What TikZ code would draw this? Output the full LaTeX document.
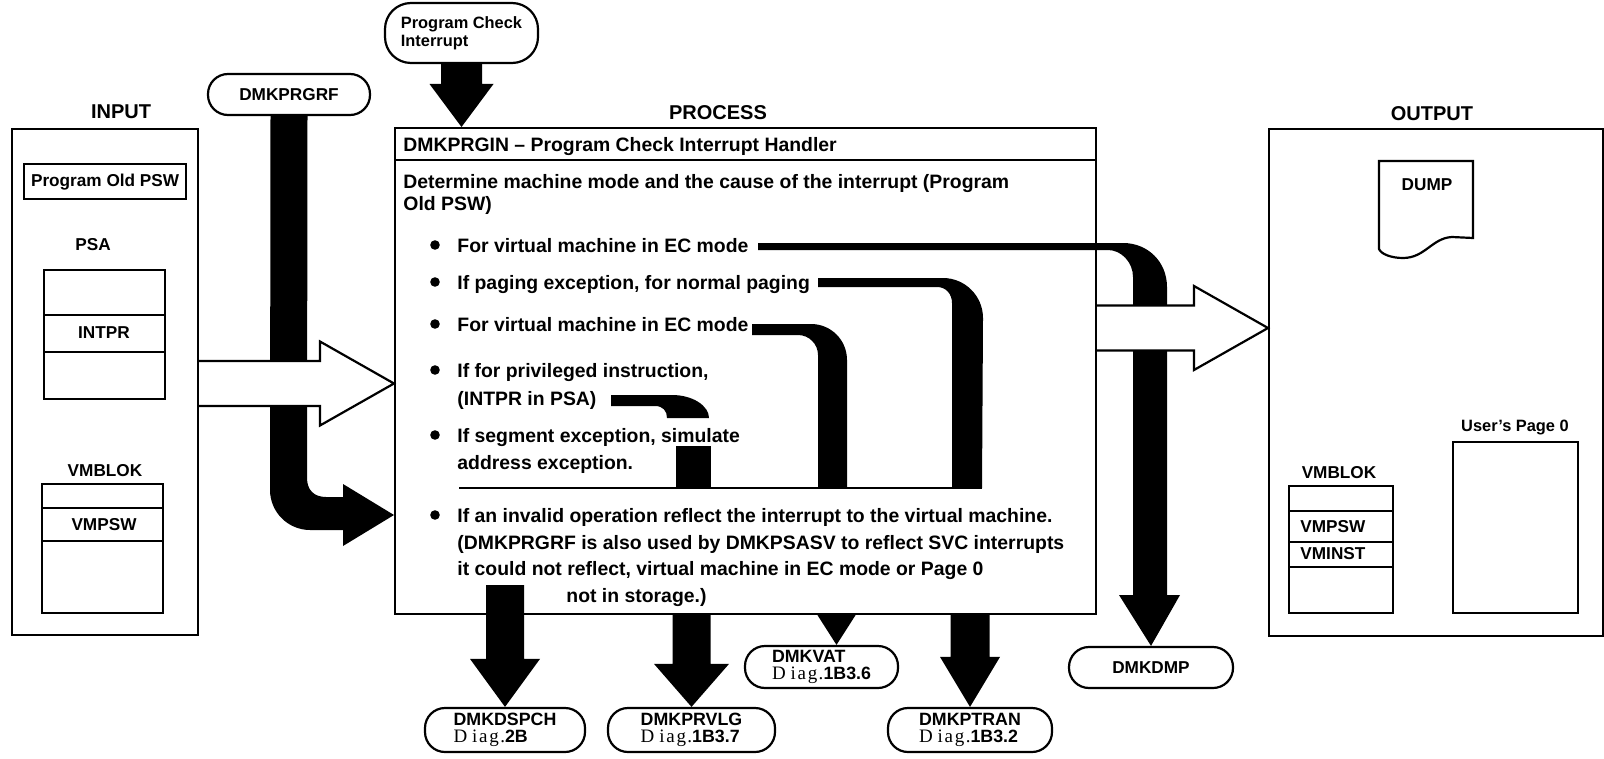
\documentclass[tikz,border=0pt]{standalone}
\usepackage{fontspec}
\setmainfont{Liberation Sans}
\newfontfamily\diagserif{Liberation Serif}
\usetikzlibrary{calc}

% text styles
\newcommand\bodytext{\fontsize{9.7}{12}\selectfont\bfseries}
\newcommand\labtext{\fontsize{8.6}{10}\selectfont\bfseries}
\newcommand\pilltext{\fontsize{8.9}{8.2}\selectfont\bfseries}
\newcommand\titletext{\fontsize{10}{12}\selectfont\bfseries}
\newcommand\diagref[1]{{\diagserif\mdseries\fontsize{9.5}{8.2}\selectfont D\kern2.4pt i\kern0.9pt a\kern0.9pt g\kern0.7pt.}#1}

% fat black arrow pointing down: #1 start, #2 tip, #3 half bar, #4 half head, #5 head length
\newcommand\fatdown[5]{%
  \fill let \p1=(#1), \p2=(#2) in
    (\x2-#3,\y1) -- (\x2+#3,\y1) -- (\x2+#3,\y2+#5) -- (\x2+#4,\y2+#5)
    -- (\x2,\y2) -- (\x2-#4,\y2+#5) -- (\x2-#3,\y2+#5) -- cycle;}

% hollow arrow pointing right, from #1 to tip #2 (same height)
\newcommand\hollowright[2]{%
  \filldraw[fill=white, line width=1.1pt, line join=miter] let \p1=(#1), \p2=(#2) in
    (\x1,\y1+11.25pt) -- (\x2-37pt,\y1+11.25pt) -- (\x2-37pt,\y1+21pt) -- (\x2,\y1)
    -- (\x2-37pt,\y1-21pt) -- (\x2-37pt,\y1-11.25pt) -- (\x1,\y1-11.25pt);}

\tikzset{
  box/.style={draw, line width=1.1pt, inner sep=0pt, anchor=north west},
  pill/.style={draw, line width=1.1pt, rounded corners=10pt, inner sep=0pt, align=left, font=\pilltext},
  rule/.style={line width=1.1pt},
  body/.style={anchor=base west, inner sep=0pt, font=\bodytext},
  lab/.style={inner sep=0pt, font=\labtext},
  title/.style={inner sep=0pt, font=\titletext},
}

\begin{document}
\begin{tikzpicture}[x=0.5pt,y=-0.5pt]
\useasboundingbox (0,0) rectangle (1604,759);

% ---------- titles ----------
\node[title] (tin)   at (121,112)  {INPUT};
\node[title] (tproc) at (718,113)  {PROCESS};
\node[title] (tout)  at (1432,114) {OUTPUT};

% ---------- main boxes ----------
\node[box, minimum width=93pt,    minimum height=253pt]   (inbox)   at (11,128)   {};
\node[box, minimum width=350.5pt, minimum height=243pt]   (procbox) at (394,127)  {};
\node[box, minimum width=167pt,   minimum height=253.5pt] (outbox)  at (1268,128) {};

% ---------- input contents ----------
\node[box, minimum width=81pt, minimum height=17.5pt, font=\labtext] (oldpsw) at (23,163) {Program Old PSW};
\node[lab] (psalab) at (93,245) {PSA};
\node[box, minimum width=60.5pt, minimum height=64.5pt] (psa) at (43,269) {};
\draw[rule] (43,315) -- (164,315);
\draw[rule] (43,352) -- (164,352);
\node[lab] (intpr) at (104,333) {INTPR};
\node[lab] (vmblab) at (105,471) {VMBLOK};
\node[box, minimum width=60.5pt, minimum height=64.5pt] (vmblk) at (41,483) {};
\draw[rule] (41,508) -- (162,508);
\draw[rule] (41,541) -- (162,541);
\node[lab] (vmpsw) at (104,525) {VMPSW};

% ---------- output contents ----------
\draw[rule] (1379,161) -- (1473,161) -- (1473,238) -- (1452,237)
  .. controls (1432,238) and (1425,258) .. (1403,258)
  .. controls (1391,258) and (1381,254) .. (1379,249) -- cycle;
\node[lab] (dump) at (1427,185) {DUMP};
\node[lab, font=\fontsize{8.2}{10}\selectfont\bfseries] (pg0lab) at (1515,428) {User’s Page 0};
\node[box, minimum width=62.5pt, minimum height=85.5pt] (pg0) at (1452,441) {};
\node[lab] (ovmblab) at (1339,473) {VMBLOK};
\node[box, minimum width=52pt, minimum height=63.5pt] (ovmblk) at (1288,485) {};
\draw[rule] (1288,511) -- (1392,511);
\draw[rule] (1288,542) -- (1392,542);
\draw[rule] (1288,567) -- (1392,567);
\node[lab, anchor=west] (ovmpsw) at (1300,527) {VMPSW};
\node[lab, anchor=west] (ovminst) at (1300,554) {VMINST};

% ---------- process text ----------
\coordinate (hl) at (0,160);
\draw[rule] (procbox.west |- hl) -- (procbox.east |- hl);
\node[body] (hdr)  at (403,152) {DMKPRGIN \textendash\ Program Check Interrupt Handler};
\node[body] (det1) at (403,189) {Determine machine mode and the cause of the interrupt (Program};
\node[body] (det2) at (403,211) {Old PSW)};

\foreach \by in {245,282,324,370,435,515} \fill (435,\by) circle (2.4pt);
\node[body] (t1)  at (457,252) {For virtual machine in EC mode};
\node[body] (t2)  at (457,289) {If paging exception, for normal paging};
\node[body] (t3)  at (457,331) {For virtual machine in EC mode};
\node[body] (t4a) at (457,377) {If for privileged instruction,};
\node[body] (t4b) at (457,405) {(INTPR in PSA)};
\node[body] (t5a) at (457,442) {If segment exception, simulate};
\node[body] (t5b) at (457,469) {address exception.};
\node[body] (t6a) at (457,522) {If an invalid operation reflect the interrupt to the virtual machine.};
\node[body] (t6b) at (457,549) {(DMKPRGRF is also used by DMKPSASV to reflect SVC interrupts};
\node[body] (t6c) at (457,575) {it could not reflect, virtual machine in EC mode or Page 0};
\node[body] (t6d) at (566,602) {not in storage.)};

\coordinate (sepL) at (459,488);
\coordinate (sepR) at (982,488);
\draw[line width=1.2pt] (sepL) -- (sepR);

% ---------- terminal nodes ----------
\node[pill, minimum width=76.5pt, minimum height=30pt, rounded corners=13pt,
      font=\fontsize{8.2}{9}\selectfont\bfseries] (pci) at (461.5,33) {Program Check\\Interrupt};
\node[pill, minimum width=81pt, minimum height=20.5pt, font=\labtext] (prgrf) at (289,94.5) {DMKPRGRF};
\node[pill, minimum width=80pt,   minimum height=22pt]   (dspch) at (505,730)    {DMKDSPCH\\\diagref{2B}};
\node[pill, minimum width=83.5pt, minimum height=22pt]   (prvlg) at (691.5,730)  {DMKPRVLG\\\diagref{1B3.7}};
\node[pill, minimum width=76.5pt, minimum height=21pt]   (vat)   at (821.5,667)  {DMKVAT\\\diagref{1B3.6}};
\node[pill, minimum width=82pt,   minimum height=22pt]   (ptran) at (970,730)    {DMKPTRAN\\\diagref{1B3.2}};
\node[pill, minimum width=82pt,   minimum height=20.5pt, font=\labtext] (dmp) at (1151,667.5) {DMKDMP};

% ---------- black flow arrows ----------
% program check interrupt into the handler
\fatdown{pci.south}{pci.south |- procbox.north}{10.25pt}{16pt}{21.5pt}

% DMKPRGRF entry, bending into the last step
\coordinate (rfY) at (0,515);
\fill ([xshift=-9.25pt]prgrf.south) -- ([xshift=9.25pt]prgrf.south) -- (307,478)
  .. controls (307,490) and (314,497) .. (326,497) -- (343,497) -- (343,484)
  -- (procbox.west |- rfY) -- (343,546) -- (343,530) -- (310,530)
  .. controls (288,530) and (270,512) .. (270,490) -- cycle;

% EC mode -> DMKDMP
\coordinate (ecA) at (758,246.5);
\fill ([yshift=1.75pt]ecA) -- (1123,243) .. controls (1148,243) and (1167,262) .. (1167,287)
  -- (1167,595) -- (1180,595) -- (dmp.north) -- (1119,595) -- (1133,595) -- (1133,277)
  .. controls (1133,262) and (1121,250) .. (1108,250) -- ([yshift=-1.75pt]ecA) -- cycle;

% normal paging -> DMKPTRAN
\coordinate (pgB) at (818,282.5);
\fill ([yshift=2.25pt]pgB) -- (943,278) .. controls (965,278) and (983,296) .. (983,318)
  -- (sepR |- sepL) -- (952,488) -- (952,303) .. controls (952,294) and (946,287) .. (937,287)
  -- ([yshift=-2.25pt]pgB) -- cycle;

% EC mode -> DMKVAT
\coordinate (ecC) at (752,329.5);
\fill ([yshift=2.75pt]ecC) -- (811,324) .. controls (831,324) and (847,340) .. (847,360)
  -- (847,488) -- (818,488) -- (818,355) .. controls (818,344) and (809,335) .. (798,335)
  -- ([yshift=-2.75pt]ecC) -- cycle;

% privileged instruction -> DMKPRVLG
\coordinate (prD) at (611,400.5);
\fill ([yshift=2.75pt]prD) -- (672,395) .. controls (693,395) and (709,406) .. (709,418)
  -- (667,418) .. controls (667,411) and (663,406) .. (655,406) -- ([yshift=-2.75pt]prD) -- cycle;
\fill (676,446) rectangle (711,488);

% exits below the process box
\coordinate (sDsp) at (506,585);
\fatdown{sDsp}{dspch.north}{9.5pt}{17.5pt}{24pt}
\fatdown{procbox.south -| prvlg.north}{prvlg.north}{9.5pt}{18.75pt}{21.5pt}
\fill let \p1=(procbox.south), \p2=([xshift=7.5pt]vat.north) in
  (\x2-9.5pt,\y1) -- (\x2+9.5pt,\y1) -- (\p2) -- cycle;
\fatdown{procbox.south -| ptran.north}{ptran.north}{9.75pt}{15pt}{25pt}

% ---------- hollow data arrows ----------
\coordinate (inY) at (0,383.5);
\hollowright{inbox.east |- inY}{procbox.west |- inY}
\coordinate (outY) at (0,328);
\hollowright{procbox.east |- outY}{outbox.west |- outY}

\end{tikzpicture}
\end{document}
